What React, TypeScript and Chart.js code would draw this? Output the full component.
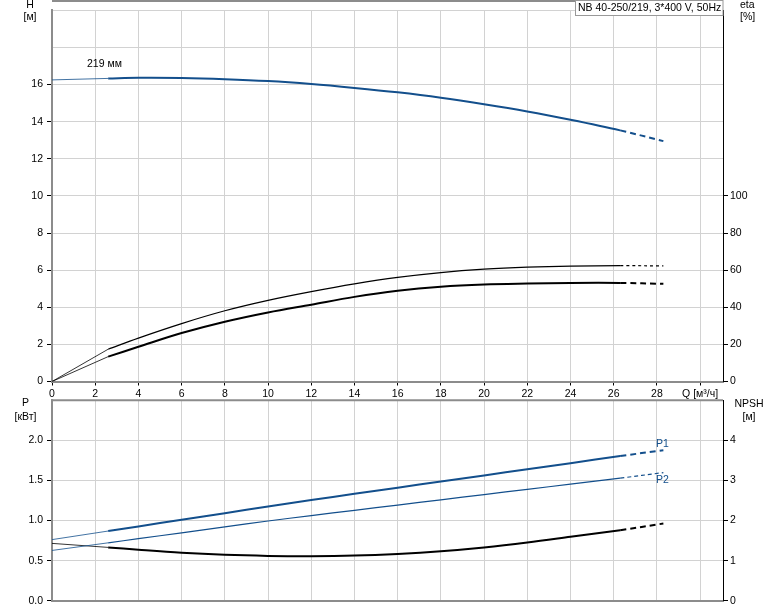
import React, { useEffect, useRef } from 'react';
import { Chart, registerables } from 'chart.js';

Chart.register(...registerables);

// ---------- data ----------
const Q = [0, 2.6, 4, 6, 8, 10, 12, 14, 16, 18, 20, 22, 24, 26.3, 28.3];
const H = [16.25, 16.33, 16.36, 16.35, 16.29, 16.19, 16.03, 15.82, 15.58, 15.29, 14.94, 14.55, 14.1, 13.53, 12.95];
const ETA_A = [0, 17.4, 23.4, 31.2, 38.1, 43.7, 48.4, 52.6, 56.1, 58.7, 60.5, 61.6, 62.2, 62.4, 62.3];
const ETA_B = [0, 13.4, 18.7, 26.1, 32.2, 37.2, 41.4, 45.6, 48.9, 51.1, 52.3, 52.8, 53.1, 53.1, 52.6];
const P1 = [0.762, 0.869, 0.927, 1.009, 1.092, 1.175, 1.256, 1.333, 1.41, 1.487, 1.563, 1.64, 1.716, 1.804, 1.878];
const P2 = [0.627, 0.722, 0.774, 0.847, 0.921, 0.994, 1.062, 1.128, 1.193, 1.258, 1.324, 1.389, 1.454, 1.529, 1.598];
const NPSH = [1.43, 1.33, 1.27, 1.195, 1.145, 1.118, 1.11, 1.125, 1.168, 1.235, 1.33, 1.452, 1.594, 1.76, 1.925];

const DASH_FROM = 26.3;
const X_MAX = 31.06;
const X_STEP = 2;
const Q_LABEL_AT = 30;
const Q_LABEL = 'Q [м³/ч]';
const H_MAX = 20, H_LABEL_MAX = 16, H_STEP = 2;
const ETA_MAX = 200, ETA_LABEL_MAX = 100, ETA_STEP = 20;
const P_MAX = 2.5, P_LABEL_MAX = 2.0, P_STEP = 0.5;
const NPSH_MAX = 5, NPSH_LABEL_MAX = 4, NPSH_STEP = 1;
const TITLE = 'NB 40-250/219, 3*400 V, 50Hz';
const CURVE_LABEL = '219 мм';

// ---------- style ----------
const FONT = "'Liberation Sans', Arial, sans-serif";
const FS = 10.5;
const BLUE = '#134f8c';
const GRID = '#d2d2d2';
const AXIS_GRAY = '#8c8c8c';
const PL = 52, PR = 723;

function curve(yAxisID: string, values: number[], color: string, width: number, dash: number[]) {
  return [
    {
      data: [{ x: Q[0], y: values[0] }, { x: Q[1], y: values[1] }],
      borderColor: color,
      borderWidth: 0.8,
      pointRadius: 0,
      tension: 0,
      yAxisID,
    },
    {
      data: Q.slice(1).map((q, i) => ({ x: q, y: values[i + 1] })),
      borderColor: color,
      borderWidth: width,
      pointRadius: 0,
      tension: 0.35,
      borderCapStyle: 'butt',
      yAxisID,
      segment: {
        borderDash: (ctx: any) => (ctx.p0.parsed.x >= DASH_FROM - 1e-6 ? dash : undefined),
      },
    },
  ];
}

const tickFont = { family: FONT, size: FS };

function xScale(showLabels: boolean, height: number) {
  return {
    type: 'linear',
    min: 0,
    max: X_MAX,
    afterFit: (s: any) => { s.height = height; },
    border: { color: AXIS_GRAY, width: 2 },
    grid: { color: GRID, lineWidth: 1, tickColor: '#000', tickLength: 4, drawTicks: showLabels },
    ticks: {
      display: showLabels,
      stepSize: X_STEP,
      includeBounds: false,
      maxRotation: 0,
      autoSkip: false,
      padding: 2,
      color: '#000',
      font: tickFont,
      callback: (v: number) => (v === Q_LABEL_AT ? Q_LABEL : String(v)),
    },
  };
}

function yScale(position: string, max: number, step: number, labelMax: number, width: number, chartGrid: boolean, fmt: (v: number) => string) {
  return {
    type: 'linear',
    position,
    min: 0,
    max,
    afterFit: (s: any) => { s.width = width; },
    border: position === 'left' ? { color: AXIS_GRAY, width: 2 } : { color: '#000', width: 1 },
    grid: {
      drawOnChartArea: chartGrid,
      color: GRID,
      lineWidth: 1,
      tickLength: 5,
      tickColor: (ctx: any) => (ctx.tick && ctx.tick.value <= labelMax + 1e-6 ? '#000' : 'rgba(0,0,0,0)'),
    },
    ticks: {
      stepSize: step,
      padding: position === 'left' ? 4 : 2,
      color: '#000',
      font: tickFont,
      callback: (v: number) => (v <= labelMax + 1e-6 ? fmt(v) : ''),
    },
  };
}

function text(ctx: CanvasRenderingContext2D, s: string, x: number, y: number, align: CanvasTextAlign, color = '#000') {
  ctx.save();
  ctx.font = `${FS}px ${FONT}`;
  ctx.fillStyle = color;
  ctx.textAlign = align;
  ctx.textBaseline = 'middle';
  ctx.fillText(s, x, y);
  ctx.restore();
}

export default function App() {
  const topRef = useRef<HTMLCanvasElement>(null);
  const botRef = useRef<HTMLCanvasElement>(null);

  useEffect(() => {
    const topPlugin = {
      id: 'topDecor',
      afterDraw(chart: any) {
        const ctx = chart.ctx as CanvasRenderingContext2D;
        const a = chart.chartArea;
        ctx.save();
        ctx.strokeStyle = AXIS_GRAY;
        ctx.lineWidth = 2;
        ctx.beginPath();
        ctx.moveTo(a.left, 1);
        ctx.lineTo(a.right, 1);
        ctx.stroke();
        // title box
        ctx.fillStyle = '#fff';
        ctx.fillRect(575.5, 0.5, a.right - 575.5, 15);
        ctx.strokeStyle = '#999';
        ctx.lineWidth = 1;
        ctx.strokeRect(575.5, 0.5, a.right - 575.5, 15);
        ctx.restore();
        text(ctx, TITLE, 578, 8.5, 'left');
        text(ctx, 'H', 30, 5.5, 'center');
        text(ctx, '[м]', 30, 17.5, 'center');
        text(ctx, 'eta', 740, 5.5, 'left');
        text(ctx, '[%]', 740, 17.5, 'left');
        text(ctx, CURVE_LABEL, 87, 64, 'left');
      },
    };

    const botPlugin = {
      id: 'botDecor',
      afterDraw(chart: any) {
        const ctx = chart.ctx as CanvasRenderingContext2D;
        const a = chart.chartArea;
        ctx.save();
        ctx.strokeStyle = AXIS_GRAY;
        ctx.lineWidth = 2;
        ctx.beginPath();
        ctx.moveTo(a.left, a.top);
        ctx.lineTo(a.right, a.top);
        ctx.stroke();
        ctx.restore();
        text(ctx, 'P', 25.5, 13, 'center');
        text(ctx, '[кВт]', 25.5, 27, 'center');
        text(ctx, 'NPSH', 749, 14, 'center');
        text(ctx, '[м]', 749, 27, 'center');
        text(ctx, 'P1', 656, 54.5, 'left', BLUE);
        text(ctx, 'P2', 656, 90.5, 'left', BLUE);
      },
    };

    const top = new Chart(topRef.current as HTMLCanvasElement, {
      type: 'line',
      data: {
        datasets: [
          ...curve('h', H, BLUE, 2, [6, 4]),
          ...curve('eta', ETA_A, '#000', 1.2, [3, 3]),
          ...curve('eta', ETA_B, '#000', 2, [6, 4]),
        ] as any,
      },
      options: {
        responsive: false,
        animation: false,
        events: [],
        layout: { padding: 0 },
        plugins: { legend: { display: false }, tooltip: { enabled: false } },
        scales: {
          x: xScale(true, 400 - 381.5),
          h: yScale('left', H_MAX, H_STEP, H_LABEL_MAX, PL, true, (v) => String(v)),
          eta: yScale('right', ETA_MAX, ETA_STEP, ETA_LABEL_MAX, 774 - PR, false, (v) => String(v)),
        } as any,
      },
      plugins: [topPlugin],
    });

    const bot = new Chart(botRef.current as HTMLCanvasElement, {
      type: 'line',
      data: {
        datasets: [
          ...curve('p', P1, BLUE, 2, [6, 4]),
          ...curve('p', P2, BLUE, 1.2, [4, 3]),
          ...curve('npsh', NPSH, '#000', 2, [6, 4]),
        ] as any,
      },
      options: {
        responsive: false,
        animation: false,
        events: [],
        layout: { padding: { top: 9, left: 0, right: 0, bottom: 0 } },
        plugins: { legend: { display: false }, tooltip: { enabled: false } },
        scales: {
          x: xScale(false, 8),
          p: yScale('left', P_MAX, P_STEP, P_LABEL_MAX, PL, true, (v) => v.toFixed(1)),
          npsh: yScale('right', NPSH_MAX, NPSH_STEP, NPSH_LABEL_MAX, 774 - PR, false, (v) => String(v)),
        } as any,
      },
      plugins: [botPlugin],
    });

    return () => {
      top.destroy();
      bot.destroy();
    };
  }, []);

  return (
    <div style={{ position: 'fixed', left: 0, top: 0, width: 774, height: 611, background: '#fff' }}>
      <canvas ref={topRef} width={774} height={400} style={{ position: 'absolute', left: 0, top: 0 }} />
      <canvas ref={botRef} width={774} height={221} style={{ position: 'absolute', left: 0, top: 390 }} />
    </div>
  );
}
